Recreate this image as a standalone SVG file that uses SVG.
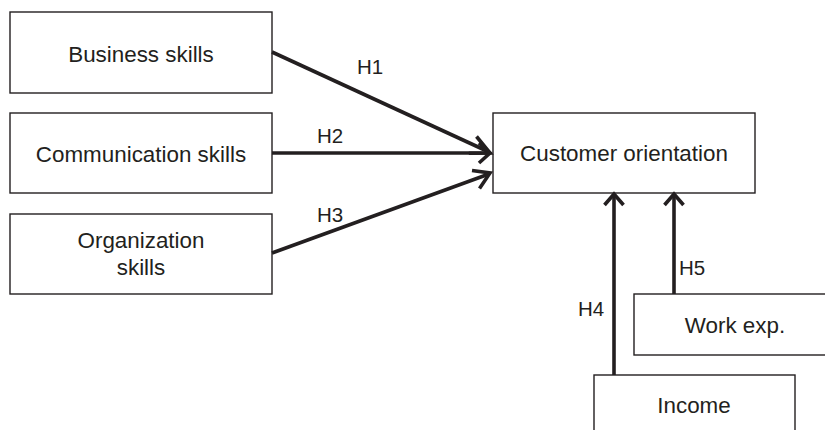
<svg xmlns="http://www.w3.org/2000/svg" width="825" height="430" viewBox="0 0 825 430">
  <defs>
    <style>
      .box { fill: #ffffff; stroke: #231f20; stroke-width: 1.4; }
      .label { font-family: "Liberation Sans", Arial, sans-serif; font-size: 22.4px; fill: #231f20; text-anchor: middle; }
      .hyp { font-family: "Liberation Sans", Arial, sans-serif; font-size: 20.5px; fill: #231f20; }
      .edge { fill: none; stroke: #231f20; stroke-width: 3.6; }
      .head { fill: none; stroke: #231f20; stroke-width: 3.6; stroke-linejoin: miter; }
    </style>
  </defs>
  <rect width="825" height="430" fill="#ffffff"/>

  <g id="business">
    <rect class="box" x="10" y="12" width="262" height="81"/>
    <text class="label" x="141" y="62">Business skills</text>
  </g>
  <g id="communication">
    <rect class="box" x="10" y="113" width="262" height="80"/>
    <text class="label" x="141" y="162">Communication skills</text>
  </g>
  <g id="organization">
    <rect class="box" x="10" y="214" width="262" height="80"/>
    <text class="label" x="141" y="248">Organization</text>
    <text class="label" x="141" y="275">skills</text>
  </g>
  <g id="customer">
    <rect class="box" x="493" y="113" width="262" height="80"/>
    <text class="label" x="624" y="161">Customer orientation</text>
  </g>
  <g id="workexp">
    <rect class="box" x="634" y="294" width="200" height="61"/>
    <text class="label" x="735" y="333">Work exp.</text>
  </g>
  <g id="income">
    <rect class="box" x="594" y="375" width="201" height="70"/>
    <text class="label" x="694" y="413">Income</text>
  </g>

  <g id="connectors">
    <!-- H1 -->
    <line class="edge" x1="272" y1="52" x2="489" y2="152"/>
    <polyline class="head" points="476.5,136.5 490,153 468.8,153.3"/>
    <!-- H2 -->
    <line class="edge" x1="272" y1="153" x2="489" y2="153"/>
    <polyline class="head" points="479,143 490,153 479,163"/>
    <!-- H3 -->
    <line class="edge" x1="272" y1="253" x2="489" y2="174"/>
    <polyline class="head" points="472,170.5 490,173 479.5,188.5"/>
    <!-- H4 -->
    <line class="edge" x1="614" y1="375" x2="614" y2="196"/>
    <polyline class="head" points="604.5,205 614,194 623.5,205"/>
    <!-- H5 -->
    <line class="edge" x1="674" y1="294" x2="674" y2="196"/>
    <polyline class="head" points="664.5,205 674,194 683.5,205"/>

    <text class="hyp" x="357" y="74">H1</text>
    <text class="hyp" x="317" y="143">H2</text>
    <text class="hyp" x="317" y="222">H3</text>
    <text class="hyp" x="578" y="316">H4</text>
    <text class="hyp" x="679" y="275">H5</text>
  </g>
</svg>
